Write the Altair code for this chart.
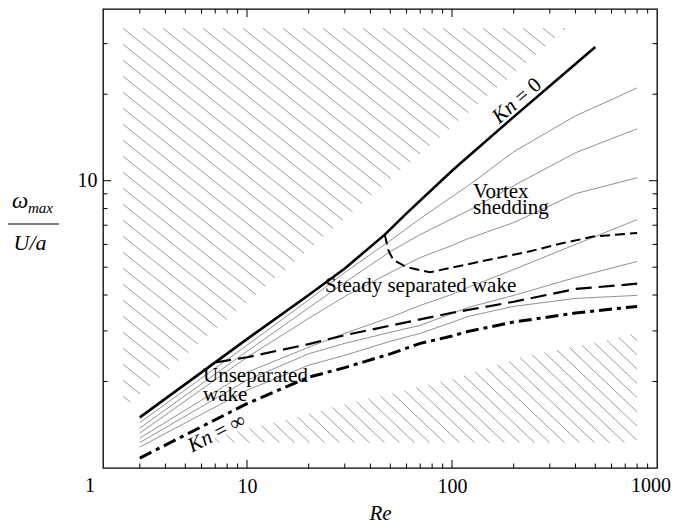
import math
import numpy as np
import pandas as pd
import altair as alt

SERIF = "Liberation Serif"

# ---------------- data ----------------
RE_GRID = [3, 10, 20, 30, 50, 70, 100, 120, 200, 400, 800]

KN0_RE = [3, 10, 20, 30, 47, 60, 100, 120, 200, 400, 500]
KN0_W = [1.50, 2.81, 4.00, 4.95, 6.49, 7.70, 10.83, 12.15, 16.68, 25.5, 29.2]

THIN_A = [1.439, 2.674, 3.847, 4.792, 6.190, 7.381, 8.800, 9.608, 12.61, 16.81, 21.03]
THIN_B = [1.377, 2.548, 3.608, 4.424, 5.668, 6.494, 7.381, 7.865, 9.608, 12.51, 15.16]
THIN_C = [1.323, 2.429, 3.318, 3.956, 4.792, 5.403, 5.948, 6.290, 7.149, 9.014, 10.24]
THIN_D = [1.271, 2.154, 2.631, 2.943, 3.345, 3.681, 4.020, 4.251, 4.909, 6.000, 7.321]
THIN_E = [1.226, 2.021, 2.498, 2.716, 2.967, 3.137, 3.452, 3.622, 3.988, 4.605, 5.234]
THIN_F = [1.183, 1.866, 2.279, 2.468, 2.761, 2.943, 3.213, 3.372, 3.652, 3.894, 3.988]

KNINF_W = [1.083, 1.675, 2.070, 2.236, 2.496, 2.716, 2.880, 2.990, 3.221, 3.462, 3.652]

SEP_RE = [7, 10, 20, 30, 50, 100, 200, 400, 800]
SEP_W = [2.33, 2.43, 2.70, 2.90, 3.13, 3.47, 3.79, 4.20, 4.38]

VORT_RE = [47, 49, 51.7, 60, 78, 94, 118, 159, 231, 336, 489, 800]
VORT_W = [6.49, 5.71, 5.30, 5.00, 4.80, 4.94, 5.11, 5.35, 5.64, 6.03, 6.39, 6.58]

X_MAJOR = [10, 100]
X_MINOR = [3, 4, 5, 6, 7, 8, 9, 20, 30, 40, 50, 60, 70, 80, 90,
           200, 300, 400, 500, 600, 700, 800, 900]
X_LABELS = [10, 100]
Y_MAJOR = [10]
Y_MINOR = [2, 3, 4, 5, 6, 7, 8, 9, 20, 30]
Y_LABELS = [10]

# hatched regions (data units)
UP_LEFT_RE, UP_TOP_W, UP_RIGHT_RE, UP_BOTTOM_W = 2.48, 33.97, 364.0, 1.603
LOW_TOP_RE = [5.90, 8.26, 11.97, 18.76, 32.9, 57.7, 94.5, 148, 215, 348, 570, 800]
LOW_TOP_W = [1.221, 1.323, 1.410, 1.528, 1.695, 1.866, 2.021, 2.224, 2.429, 2.61, 2.783, 2.967]
LOW_BOTTOM_W = 1.221
LOW_RIGHT_RE = 800.0
LOW_ANCHOR_RE = 28.4

# ---------------- layout ----------------
W, H = 554, 459
X_DOMAIN = [1.984, 1000]
Y_DOMAIN = [1.0, 39.6]

xs = alt.Scale(type="log", domain=X_DOMAIN, nice=False)
ys = alt.Scale(type="log", domain=Y_DOMAIN, nice=False)

xaxis = alt.Axis(values=X_LABELS, format="d", grid=False, ticks=False, domain=False,
                 labelFont=SERIF, labelFontSize=20, labelColor="black", labelPadding=8,
                 labelFlush=False, labelOverlap=False,
                 title="Re", titleFont=SERIF, titleFontSize=21, titleFontStyle="italic",
                 titleFontWeight="normal", titleColor="black", titlePadding=6)
yaxis = alt.Axis(values=Y_LABELS, format="d", grid=False, ticks=False, domain=False,
                 labelFont=SERIF, labelFontSize=20, labelColor="black", labelPadding=6,
                 labelFlush=False, title=None)


def X(f):
    return alt.X(f, type="quantitative", scale=xs, axis=xaxis)


def Y(f):
    return alt.Y(f, type="quantitative", scale=ys, axis=yaxis)


# ---------------- hatch geometry ----------------
lx0, lx1 = math.log10(X_DOMAIN[0]), math.log10(X_DOMAIN[1])
ly0, ly1 = math.log10(Y_DOMAIN[0]), math.log10(Y_DOMAIN[1])


def to_p(re):
    return (math.log10(re) - lx0) / (lx1 - lx0) * W


def to_q(w):
    return H - (math.log10(w) - ly0) / (ly1 - ly0) * H


def from_p(p):
    return 10 ** (lx0 + p / W * (lx1 - lx0))


def from_q(q):
    return 10 ** (ly0 + (H - q) / H * (ly1 - ly0))


def hatch(inside, slope, vspace, anchor, ks):
    segs = []
    ps = np.arange(0, W + 0.01, 0.5)
    for k in ks:
        c = anchor[1] - slope * anchor[0] + k * vspace
        qs = c + slope * ps
        flags = [inside(p, q) for p, q in zip(ps, qs)]
        start = None
        for i, f in enumerate(flags + [False]):
            if f and start is None:
                start = i
            elif not f and start is not None:
                if i - 1 > start:
                    segs.append((ps[start], qs[start], ps[i - 1], qs[i - 1]))
                start = None
    return segs


uL, uT, uR, uB = to_p(UP_LEFT_RE), to_q(UP_TOP_W), to_p(UP_RIGHT_RE), to_q(UP_BOTTOM_W)


def inside_up(p, q):
    if p < uL or q < uT:
        return False
    qd = uT + (uB - uT) * (uR - p) / (uR - uL)
    return q <= qd


lowP = [to_p(r) for r in LOW_TOP_RE]
lowQ = [to_q(w) for w in LOW_TOP_W]
lB, lR = to_q(LOW_BOTTOM_W), to_p(LOW_RIGHT_RE)


def inside_low(p, q):
    if p < lowP[0] or p > lR or q > lB:
        return False
    return q >= float(np.interp(p, lowP, lowQ))


segs = hatch(inside_up, 0.8, 16.0, (uL, uT), range(-40, 30))
segs += hatch(inside_low, 0.95, 15 * 0.95, (to_p(LOW_ANCHOR_RE), lB), range(-60, 40))
hatch_df = pd.DataFrame([{"x": from_p(a), "y": from_q(b), "x2": from_p(c), "y2": from_q(d)}
                         for a, b, c, d in segs])

# ---------------- tables ----------------
kn0_df = pd.DataFrame({"re": KN0_RE, "w": KN0_W})
thin_rows = []
for name, vals in [("A", THIN_A), ("B", THIN_B), ("C", THIN_C), ("D", THIN_D),
                   ("E", THIN_E), ("F", THIN_F)]:
    for r, v in zip(RE_GRID, vals):
        thin_rows.append({"curve": name, "re": r, "w": v})
thin_df = pd.DataFrame(thin_rows)
kninf_df = pd.DataFrame({"re": RE_GRID, "w": KNINF_W})
sep_df = pd.DataFrame({"re": SEP_RE, "w": SEP_W})
vort_df = pd.DataFrame({"re": VORT_RE, "w": VORT_W, "i": list(range(len(VORT_RE)))})

# ---------------- layers ----------------
hatch_layer = alt.Chart(hatch_df).mark_rule(color="#9c9c9c", strokeWidth=1).encode(
    x=X("x"), y=Y("y"), x2="x2:Q", y2="y2:Q")

thin_layer = alt.Chart(thin_df).mark_line(color="#858585", strokeWidth=0.9).encode(
    x=X("re"), y=Y("w"), detail="curve:N")

kn0_layer = alt.Chart(kn0_df).mark_line(color="black", strokeWidth=2.6).encode(
    x=X("re"), y=Y("w"))
kninf_layer = alt.Chart(kninf_df).mark_line(color="black", strokeWidth=3,
                                            strokeDash=[13, 5, 4, 5]).encode(
    x=X("re"), y=Y("w"))
sep_layer = alt.Chart(sep_df).mark_line(color="black", strokeWidth=2.2,
                                        strokeDash=[16, 7]).encode(x=X("re"), y=Y("w"))
vort_layer = alt.Chart(vort_df).mark_line(color="black", strokeWidth=2,
                                          strokeDash=[10, 5]).encode(
    x=X("re"), y=Y("w"), order="i:Q")


# ticks (inward, all four sides)
def xticks(vals, length):
    d = pd.DataFrame({"v": vals})
    b = alt.Chart(d).mark_rule(color="black", strokeWidth=1).encode(
        x=X("v"), y=alt.value(H), y2=alt.value(H - length))
    t = alt.Chart(d).mark_rule(color="black", strokeWidth=1).encode(
        x=X("v"), y=alt.value(0), y2=alt.value(length))
    return [b, t]


def yticks(vals, length):
    d = pd.DataFrame({"v": vals})
    l = alt.Chart(d).mark_rule(color="black", strokeWidth=1).encode(
        y=Y("v"), x=alt.value(0), x2=alt.value(length))
    r = alt.Chart(d).mark_rule(color="black", strokeWidth=1).encode(
        y=Y("v"), x=alt.value(W), x2=alt.value(W - length))
    return [l, r]


tick_layers = xticks(X_MAJOR, 8) + xticks(X_MINOR, 4.5) + yticks(Y_MAJOR, 8) + yticks(Y_MINOR, 4.5)

# region labels
reg_df = pd.DataFrame({
    "re": [126.6, 126.6, 24.02, 6.10, 6.10],
    "w": [8.73, 7.68, 4.084, 1.988, 1.708],
    "t": ["Vortex", "shedding", "Steady separated wake", "Unseparated", "wake"],
})
reg_layer = alt.Chart(reg_df).mark_text(font=SERIF, fontSize=21, align="left",
                                        baseline="alphabetic", color="black").encode(
    x=X("re"), y=Y("w"), text="t:N")

kn_it = pd.DataFrame({"re": [180.6, 5.905], "w": [17.39, 1.234], "a": [319, 333], "t": ["Kn", "Kn"]})
kn_rm = pd.DataFrame({"re": [235.6, 8.26], "w": [20.50, 1.394], "a": [319, 333], "t": ["= 0", "= ∞"]})
kn_it_layer = alt.Chart(kn_it).mark_text(font=SERIF, fontSize=21, fontStyle="italic",
                                         align="center", baseline="middle", color="black").encode(
    x=X("re"), y=Y("w"), text="t:N", angle=alt.Angle("a:Q", scale=None))
kn_rm_layer = alt.Chart(kn_rm).mark_text(font=SERIF, fontSize=21,
                                         align="center", baseline="middle", color="black").encode(
    x=X("re"), y=Y("w"), text="t:N", angle=alt.Angle("a:Q", scale=None))

# axis extras: "1" and "1000" labels at the corners, y-axis fraction title
corner_df = pd.DataFrame({"re": [X_DOMAIN[0], X_DOMAIN[1]], "t": ["1", "1000"]})
one_layer = alt.Chart(corner_df.iloc[:1]).mark_text(
    font=SERIF, fontSize=20, align="center", baseline="top", dx=-13, color="black").encode(
    x=X("re"), y=alt.value(H + 8), text="t:N")
thousand_layer = alt.Chart(corner_df.iloc[1:]).mark_text(
    font=SERIF, fontSize=20, align="center", baseline="top", dx=-6, color="black").encode(
    x=X("re"), y=alt.value(H + 8), text="t:N")

omega = alt.Chart(pd.DataFrame({"a": [0]})).mark_text(
    font=SERIF, fontSize=23, fontStyle="italic", align="center", baseline="alphabetic",
    color="black").encode(x=alt.value(-83), y=alt.value(199), text=alt.value("ω"))
maxsub = alt.Chart(pd.DataFrame({"a": [0]})).mark_text(
    font=SERIF, fontSize=15, fontStyle="italic", align="left", baseline="alphabetic",
    color="black").encode(x=alt.value(-75), y=alt.value(204), text=alt.value("max"))
frac = alt.Chart(pd.DataFrame({"a": [0]})).mark_rule(color="black", strokeWidth=1).encode(
    x=alt.value(-96), x2=alt.value(-44), y=alt.value(215))
ua = alt.Chart(pd.DataFrame({"a": [0]})).mark_text(
    font=SERIF, fontSize=22, fontStyle="italic", align="center", baseline="alphabetic",
    color="black").encode(x=alt.value(-73), y=alt.value(241), text=alt.value("U/a"))

chart = alt.layer(
    hatch_layer, thin_layer, kninf_layer, sep_layer, vort_layer, kn0_layer,
    *tick_layers, reg_layer, kn_it_layer, kn_rm_layer, one_layer, thousand_layer,
    omega, maxsub, frac, ua,
).properties(
    width=W, height=H,
    padding={"left": 95, "top": 1, "right": 14, "bottom": 60},
    autosize=alt.AutoSizeParams(type="none"),
).configure_view(stroke="black", strokeWidth=1.3)

chart.save("out.html", embed_options={"renderer": "svg", "actions": False})
